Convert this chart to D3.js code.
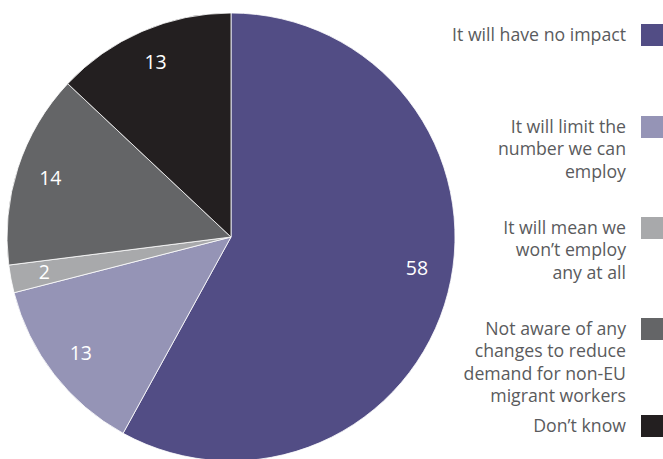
<!DOCTYPE html>
<html>
<head>
<meta charset="utf-8">
<script src="https://cdn.jsdelivr.net/npm/d3@7/dist/d3.min.js"></script>
<style>
  html, body { margin: 0; padding: 0; background: #ffffff; }
  svg { display: block; }
</style>
</head>
<body>
<svg id="chart" width="663" height="459"></svg>
<script>
// Responses on the effect of changes to non-EU migrant worker demand (%)
const categories = [
  "It will have no impact",
  "It will limit the number we can employ",
  "It will mean we won\u2019t employ any at all",
  "Not aware of any changes to reduce demand for non-EU migrant workers",
  "Don\u2019t know"
];
const values = [58, 13, 2, 14, 13];
const colors = ["#524d85", "#9594b6", "#a8a9ab", "#646567", "#231f20"];
// Legend text broken into lines
const legendLines = [
  ["It will have no impact"],
  ["It will limit the", "number we can", "employ"],
  ["It will mean we", "won\u2019t employ", "any at all"],
  ["Not aware of any", "changes to reduce", "demand for non-EU", "migrant workers"],
  ["Don\u2019t know"]
];
const legendTop = [24, 116, 217, 318, 415];

const svg = d3.select("#chart");
const cx = 231, cy = 237, r = 224;
const fontStack = "'Open Sans', 'Noto Sans', sans-serif";

const pie = d3.pie().sort(null).value(d => d);
const arc = d3.arc().innerRadius(0).outerRadius(r);
const labelArc = d3.arc().innerRadius(190).outerRadius(190);

const g = svg.append("g").attr("transform", `translate(${cx},${cy})`);
const arcs = pie(values);

g.selectAll("path")
  .data(arcs)
  .join("path")
  .attr("d", arc)
  .attr("fill", (d, i) => colors[i])
  .attr("stroke", "#ffffff")
  .attr("stroke-width", 0.8);

// Value labels near the rim; the large slice's label is lifted a little
g.selectAll("text")
  .data(arcs)
  .join("text")
  .attr("transform", (d, i) => {
    const [x, y] = labelArc.centroid(d);
    return `translate(${x + (i === 0 ? 2 : 0)},${y + (i === 0 ? -16 : 0)})`;
  })
  .attr("text-anchor", "middle")
  .attr("dy", "0.35em")
  .attr("fill", "#ffffff")
  .style("font-family", fontStack)
  .style("font-size", "19.5px")
  .text(d => d.data);

// Legend: right-aligned text with a swatch on the right edge
const legend = svg.append("g");
const lineH = 22.3;
legendLines.forEach((lines, i) => {
  const top = legendTop[i];
  legend.append("rect")
    .attr("x", 641).attr("y", top)
    .attr("width", 22).attr("height", 22)
    .attr("fill", colors[i]);
  const t = legend.append("text")
    .attr("x", 626)
    .attr("y", top + 17)
    .attr("text-anchor", "end")
    .attr("fill", "#5a5b5d")
    .style("font-family", fontStack)
    .style("font-size", "17.7px");
  lines.forEach((ln, j) => {
    t.append("tspan").attr("x", 626).attr("dy", j === 0 ? 0 : lineH).text(ln);
  });
});
</script>
</body>
</html>
